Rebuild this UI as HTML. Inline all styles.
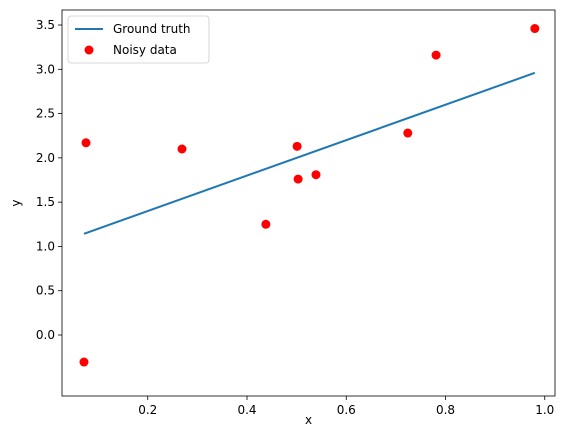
<!DOCTYPE html>
<html><head><meta charset="utf-8"><style>
body{margin:0;background:#fff;}
svg text{font-family:"DejaVu Sans","Liberation Sans",sans-serif;font-size:12px;fill:#000;}
</style></head><body>
<svg id="chart" width="567" height="432" viewBox="0 0 567 432"></svg>
<script>
const xs=[0.0715,0.0756,0.269,0.438,0.501,0.503,0.539,0.724,0.781,0.980];
const ys=[-0.305,2.17,2.10,1.25,2.13,1.76,1.81,2.28,3.16,3.46];
const truthSlope=[2.0];
const truthIntercept=[1.0];
const xTicks=[0.2,0.4,0.6,0.8,1.0];
const xTickLabels=["0.2","0.4","0.6","0.8","1.0"];
const yTicks=[0,0.5,1,1.5,2,2.5,3,3.5];
const yTickLabels=["0.0","0.5","1.0","1.5","2.0","2.5","3.0","3.5"];
const NS="http://www.w3.org/2000/svg";
const svg=document.getElementById('chart');
const L=62,R=555,T=10,B=396;
const X=v=>48.5+496.25*v;
const Y=v=>335-88.57*v;
function mk(t,a,p){const e=document.createElementNS(NS,t);for(const k in a)e.setAttribute(k,a[k]);(p||svg).appendChild(e);return e;}
// ticks
xTicks.forEach((v,i)=>{
 const l=mk('line',{x1:X(v),x2:X(v),y1:B,y2:B+4,stroke:'#000','stroke-width':0.8});
 
 
 const t=mk('text',{x:X(v),y:B+18,'text-anchor':'middle'});t.textContent=xTickLabels[i];
 
 
});
yTicks.forEach((v,i)=>{
 const l=mk('line',{x1:L-4,x2:L,y1:Y(v),y2:Y(v),stroke:'#000','stroke-width':0.8});
 
 
 const t=mk('text',{x:L-7,y:Y(v)+4,'text-anchor':'end'});t.textContent=yTickLabels[i];
 
 
});
// ground truth line
const xmin=Math.min(...xs),xmax=Math.max(...xs);
const gl=mk('line',{x1:X(xmin),y1:Y(truthIntercept[0]+truthSlope[0]*xmin),x2:X(xmax),y2:Y(truthIntercept[0]+truthSlope[0]*xmax),stroke:'#1f77b4','stroke-width':2});


// points
xs.forEach((v,i)=>{
 const c=mk('circle',{cx:X(v),cy:Y(ys[i]),r:4.5,fill:'#ff0000'});
 
 
});
// frame
const fr=mk('rect',{x:L,y:T,width:R-L,height:B-T,fill:'none',stroke:'#000','stroke-width':0.8});


const xl=mk('text',{x:(L+R)/2,y:424,'text-anchor':'middle'});xl.textContent='x';


const yl=mk('text',{x:20,y:(T+B)/2,'text-anchor':'middle',transform:`rotate(-90 20 ${(T+B)/2})`});yl.textContent='y';


// legend
const g=mk('g',{});


mk('rect',{x:68,y:16,width:141,height:47,rx:3,fill:'#fff',stroke:'#ccc','stroke-width':0.8},g);
mk('line',{x1:75,x2:103,y1:29,y2:29,stroke:'#1f77b4','stroke-width':2},g);
const t1=mk('text',{x:113,y:33},g);t1.textContent='Ground truth';


mk('circle',{cx:89,cy:50,r:4.5,fill:'#ff0000'},g);
const t2=mk('text',{x:113,y:54},g);t2.textContent='Noisy data';


</script>
</body></html>
